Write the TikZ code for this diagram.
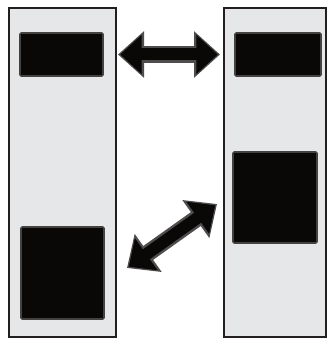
\documentclass[tikz,border=0pt]{standalone}
\usetikzlibrary{arrows.meta, positioning}
\definecolor{panelgray}{HTML}{E6E7E8}
\definecolor{rimgray}{HTML}{231F20}
\definecolor{boxblack}{HTML}{0A0807}
\begin{document}
\begin{tikzpicture}[
    x=1pt, y=-1pt,
    panel/.style={rectangle, draw=rimgray, fill=panelgray, line width=2pt, inner sep=0pt, outer sep=0pt},
    blackbox/.style={rectangle, draw=rimgray!85, fill=boxblack, line width=1.6pt, rounded corners=1.2pt, inner sep=0pt, outer sep=0pt},
    fatrim/.style={draw=rimgray!80, line width=17pt, {Triangle[length=26pt, width=45pt]}-{Triangle[length=26pt, width=45pt]}},
    fatarrow/.style={draw=boxblack, line width=12pt, shorten <=2.2pt, shorten >=2.2pt, {Triangle[length=21.5pt, width=38pt]}-{Triangle[length=21.5pt, width=38pt]}}
]
\useasboundingbox (0,0) rectangle (328,339);
\node (lpanel) [panel, minimum width=107pt, minimum height=329pt] at (62.5,172.5) {};
\node (rpanel) [panel, minimum width=102pt, minimum height=329pt] at (275,172.5) {};
\node (ltop) [blackbox, minimum width=83pt, minimum height=43pt, below=25pt of lpanel.north, xshift=-1pt] {};
\node (lbottom) [blackbox, minimum width=83pt, minimum height=92pt, above=18pt of lpanel.south] {};
\node (rtop) [blackbox, minimum width=86pt, minimum height=43pt, below=25pt of rpanel.north, xshift=3pt] {};
\node (rmiddle) [blackbox, minimum width=84pt, minimum height=91pt, below=144pt of rpanel.north] {};
\path (lpanel.east |- ltop) ++(2,0) coordinate (hleft);
\path (rpanel.west |- rtop) ++(-4,0) coordinate (hright);
\coordinate (dlow) at (127,268);
\coordinate (dhigh) at (217,204);
% horizontal arrow
\draw [fatrim] (hleft) -- (hright);
\draw [fatarrow] (hleft) -- (hright);
% diagonal arrow
\draw [fatrim] (dlow) -- (dhigh);
\draw [fatarrow] (dlow) -- (dhigh);
\end{tikzpicture}
\end{document}
